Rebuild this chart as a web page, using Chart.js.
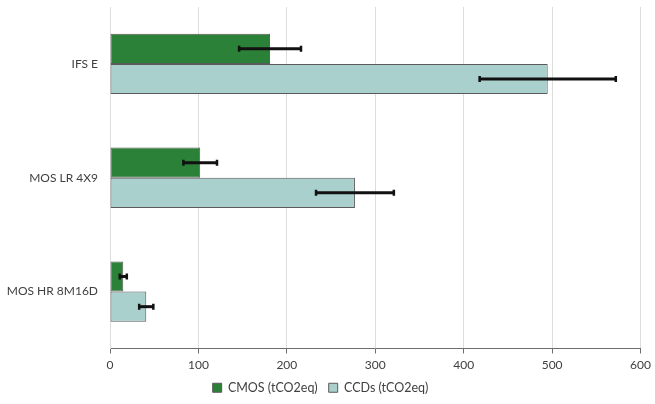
<!DOCTYPE html>
<html>
<head>
<meta charset="utf-8">
<script src="https://cdn.jsdelivr.net/npm/chart.js@4/dist/chart.umd.min.js"></script>
<style>
  html, body { margin: 0; padding: 0; background: #fff; }
  #wrap { width: 655px; height: 404px; }
</style>
</head>
<body>
<div id="wrap"><canvas id="chart" width="655" height="404"></canvas></div>
<script>
// data
const categories = ['IFS E', 'MOS LR 4X9', 'MOS HR 8M16D'];
const cmosValues = [181, 102, 15];
const cmosErrors = [35, 19, 4];
const ccdValues = [495, 277, 41];
const ccdErrors = [77, 44, 8];
const xTicks = [0, 100, 200, 300, 400, 500, 600];

const colors = {
  cmos: '#2a8137',
  ccd: '#a9d0cc',
  barBorder: '#5a5a5a',
  grid: '#dcdcdc',
  axis: '#6e6e6e',
  text: '#404040',
};

// ── error bars, drawn from the x scale ──
const errorBars = {
  id: 'errorBars',
  afterDatasetsDraw(chart) {
    const ctx = chart.ctx;
    const xs = chart.scales.x;
    chart.data.datasets.forEach((ds, i) => {
      const meta = chart.getDatasetMeta(i);
      meta.data.forEach((bar, j) => {
        const v = ds.data[j], e = ds.errors[j];
        const x1 = xs.getPixelForValue(v - e);
        const x2 = xs.getPixelForValue(v + e);
        const y = bar.y;
        ctx.save();
        ctx.strokeStyle = '#111';
        ctx.lineWidth = 3;
        ctx.beginPath();
        ctx.moveTo(x1, y);
        ctx.lineTo(x2, y);
        ctx.stroke();
        ctx.lineWidth = 2.5;
        ctx.beginPath();
        ctx.moveTo(x1, y - 3);
        ctx.lineTo(x1, y + 3);
        ctx.moveTo(x2, y - 3);
        ctx.lineTo(x2, y + 3);
        ctx.stroke();
        ctx.restore();
      });
    });
  }
};

Chart.defaults.font.family = "Lato, 'Liberation Sans', sans-serif";
Chart.defaults.font.size = 12;
Chart.defaults.color = colors.text;

new Chart(document.getElementById('chart'), {
  type: 'bar',
  data: {
    labels: categories,
    datasets: [
      {
        label: 'CMOS (tCO2eq)',
        data: cmosValues,
        errors: cmosErrors,
        backgroundColor: colors.cmos,
        borderColor: colors.barBorder,
        borderWidth: 1,
        borderSkipped: false,
        categoryPercentage: 0.53,
        barPercentage: 1.0,
      },
      {
        label: 'CCDs (tCO2eq)',
        data: ccdValues,
        errors: ccdErrors,
        backgroundColor: colors.ccd,
        borderColor: colors.barBorder,
        borderWidth: 1,
        borderSkipped: false,
        categoryPercentage: 0.53,
        barPercentage: 1.0,
      },
    ],
  },
  options: {
    indexAxis: 'y',
    responsive: false,
    animation: false,
    layout: { padding: { left: 0, right: 14, top: 7, bottom: 0 } },
    plugins: {
      legend: {
        position: 'bottom',
        labels: {
          boxWidth: 9,
          boxHeight: 9,
          padding: 11,
          color: colors.text,
          font: { size: 12.5 },
        },
      },
      tooltip: { enabled: false },
    },
    scales: {
      x: {
        min: 0,
        max: 600,
        afterBuildTicks: (scale) => { scale.ticks = xTicks.map(v => ({ value: v })); },
        grid: { color: colors.grid, tickColor: colors.axis, tickLength: 5, drawTicks: true },
        border: { color: colors.axis, width: 1 },
        ticks: { padding: 4, color: colors.text },
        afterFit: (scale) => { scale.height = 22; },
      },
      y: {
        grid: { display: false },
        border: { color: colors.grid, width: 1 },
        ticks: { padding: 4, color: colors.text },
        afterFit: (scale) => { scale.width = 110; scale.paddingTop = 0; scale.paddingBottom = 0; },
      },
    },
  },
  plugins: [errorBars],
});
</script>
</body>
</html>
